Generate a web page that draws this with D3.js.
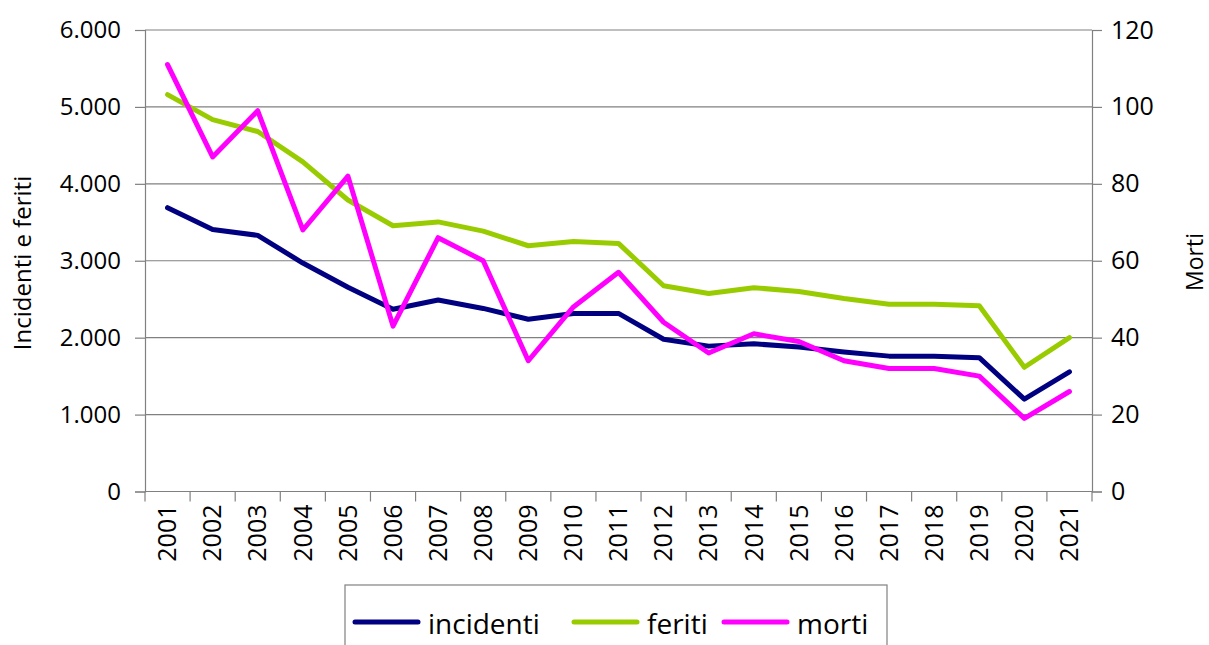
<!DOCTYPE html>
<html>
<head>
<meta charset="utf-8">
<script src="https://d3js.org/d3.v7.min.js"></script>
<style>
  body { margin: 0; background: #fff; }
  text { font-family: "Open Sans", "DejaVu Sans", sans-serif; fill: #000; }
</style>
</head>
<body>
<svg width="1209" height="645"></svg>
<script>
// data
const years = ["2001","2002","2003","2004","2005","2006","2007","2008","2009","2010","2011",
               "2012","2013","2014","2015","2016","2017","2018","2019","2020","2021"];
const incidenti = [3690,3405,3330,2970,2655,2370,2490,2380,2240,2315,2315,
                   1980,1890,1920,1880,1815,1760,1760,1740,1200,1555];
const feriti = [5160,4835,4680,4285,3790,3455,3505,3385,3195,3250,3225,
                2675,2575,2650,2600,2510,2435,2435,2415,1615,2000];
const morti = [111,87,99,68,82,43,66,60,34,48,57,44,36,41,39,34,32,32,30,19,26];
const leftTicks = [0,1000,2000,3000,4000,5000,6000];
const rightTicks = [0,20,40,60,80,100,120];

const svg = d3.select("svg");
const pL = 145, pR = 1092, pT = 30, pB = 491.5;

var x = d3.scaleBand().domain(years).range([pL, pR]);
var y = d3.scaleLinear().domain([0, 6000]).range([pB, pT]);
var y2 = d3.scaleLinear().domain([0, 120]).range([pB, pT]);

var fmt = d3.formatLocale({decimal: ",", thousands: ".", grouping: [3], currency: ["", "€"]}).format(",d");

// gridlines
svg.append("g").selectAll("line").data(leftTicks.slice(1)).enter().append("line")
  .attr("x1", pL).attr("x2", pR)
  .attr("y1", d => y(d)).attr("y2", d => y(d))
  .attr("stroke", "#808080").attr("stroke-width", 1.2);

// left axis
var gl = svg.append("g").attr("transform", "translate(" + pL + ",0)")
  .call(d3.axisLeft(y).tickValues(leftTicks).tickFormat(fmt).tickSize(10).tickPadding(14));
gl.selectAll("text").style("font-size", "24px");

// right axis
var gr = svg.append("g").attr("transform", "translate(" + pR + ",0)")
  .call(d3.axisRight(y2).tickValues(rightTicks).tickSize(10).tickPadding(9));
gr.selectAll("text").style("font-size", "25px");

// bottom axis: category labels, ticks between categories
var gb = svg.append("g").attr("transform", "translate(0," + pB + ")")
  .call(d3.axisBottom(x).tickSize(0).tickPadding(14));
gb.select(".domain").remove();
gb.selectAll("text")
  .style("font-size", "25px")
  .attr("text-anchor", "end")
  .attr("transform", "rotate(-90)")
  .attr("x", -13).attr("y", 0).attr("dy", "0.35em");
svg.append("g").selectAll("line").data(years.concat(["end"])).enter().append("line")
  .attr("x1", (d, i) => pL + i * x.bandwidth()).attr("x2", (d, i) => pL + i * x.bandwidth())
  .attr("y1", pB).attr("y2", pB + 10)
  .attr("stroke", "#808080").attr("stroke-width", 1.2);
svg.append("line").attr("x1", pL).attr("x2", pR).attr("y1", pB).attr("y2", pB)
  .attr("stroke", "#808080").attr("stroke-width", 1.2);

svg.selectAll(".domain").attr("stroke", "#808080").attr("stroke-width", 1.2);
svg.selectAll(".tick line").attr("stroke", "#808080").attr("stroke-width", 1.2);

// axis titles
svg.append("text").attr("transform", "translate(31,263) rotate(-90)")
  .attr("text-anchor", "middle").style("font-size", "24px").text("Incidenti e feriti");
svg.append("text").attr("transform", "translate(1203,262) rotate(-90)")
  .attr("text-anchor", "middle").style("font-size", "23px").text("Morti");

// lines
const cx = d => x(d) + x.bandwidth() / 2;
function drawLine(vals, scale, color) {
  svg.append("path").datum(vals)
    .attr("fill", "none").attr("stroke", color).attr("stroke-width", 5)
    .attr("stroke-linejoin", "round").attr("stroke-linecap", "round")
    .attr("d", d3.line().x((d, i) => cx(years[i])).y(d => scale(d)));
}
drawLine(incidenti, y, "#000080");
drawLine(feriti, y, "#99cc00");
drawLine(morti, y2, "#ff00ff");

// legend
var lg = svg.append("g");
lg.append("rect").attr("x", 345).attr("y", 585).attr("width", 542).attr("height", 70)
  .attr("fill", "#fff").attr("stroke", "#808080").attr("stroke-width", 1.2);
const legendItems = [
  {name: "incidenti", color: "#000080", x: 355},
  {name: "feriti", color: "#99cc00", x: 574},
  {name: "morti", color: "#ff00ff", x: 724}
];
legendItems.forEach(function(it) {
  lg.append("line").attr("x1", it.x).attr("x2", it.x + 63).attr("y1", 622).attr("y2", 622)
    .attr("stroke", it.color).attr("stroke-width", 5).attr("stroke-linecap", "round");
  lg.append("text").attr("x", it.x + 73).attr("y", 624).attr("dy", "0.35em")
    .style("font-size", "28px").text(it.name);
});
</script>
</body>
</html>
